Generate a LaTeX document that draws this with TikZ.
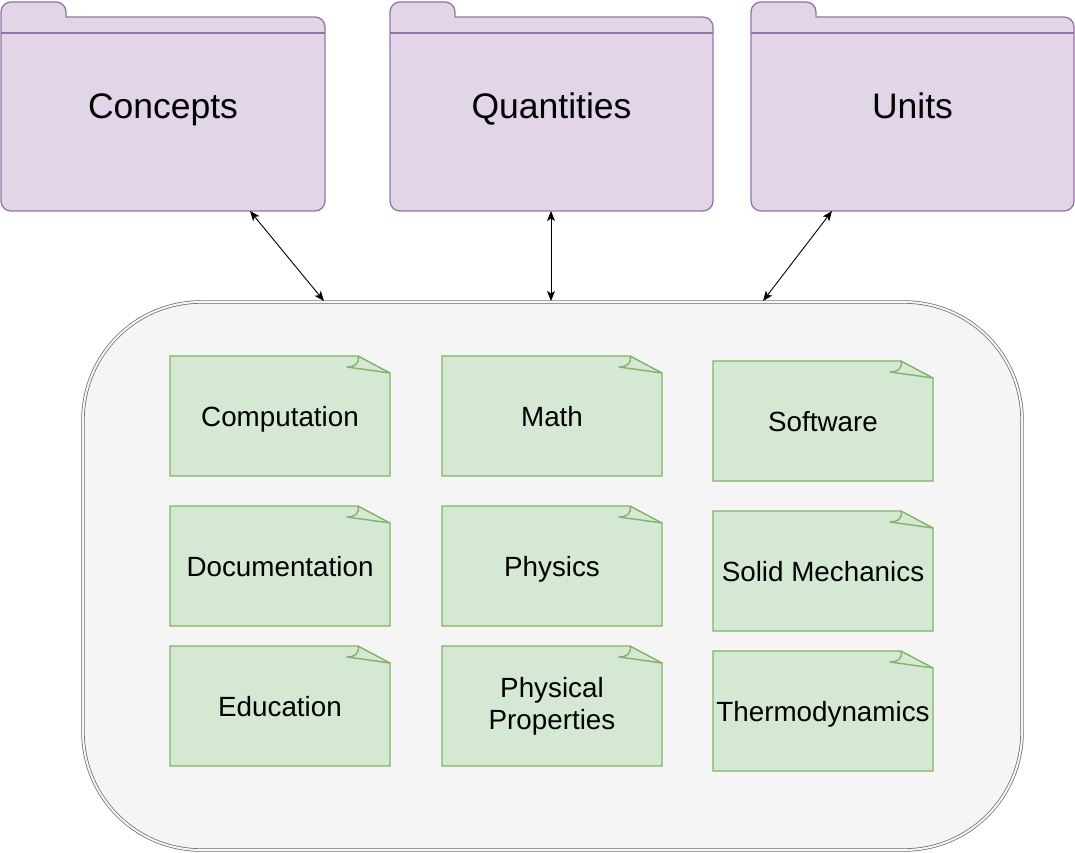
\documentclass[tikz,border=0pt]{standalone}
\usepackage{fontspec}
\setmainfont{Liberation Sans}
\usetikzlibrary{arrows.meta,calc}
\definecolor{folderfill}{HTML}{E1D5E7}
\definecolor{folderdraw}{HTML}{9673A6}
\definecolor{notefill}{HTML}{D5E8D4}
\definecolor{notedraw}{HTML}{82B366}
\definecolor{boxfill}{HTML}{F5F5F5}
\definecolor{boxdraw}{HTML}{666666}
\tikzset{
  folder/.style={fill=folderfill,draw=folderdraw,line width=1.3pt,line join=round},
  foldertext/.style={inner sep=0pt,text height=25.4pt,text depth=0pt,font=\fontsize{35.5}{40}\selectfont},
  noteshape/.style={fill=notefill,draw=notedraw,line width=1.4pt,line join=miter},
  notetext/.style={inner sep=0pt,align=center,font=\fontsize{27.8}{32}\selectfont},
  oneline/.style={text height=19.9pt,text depth=0pt},
  container/.style={fill=boxfill,draw=boxdraw,double=boxfill,double distance=2pt,line width=0.7pt,rounded corners=118pt},
  link/.style={draw=black,line width=0.9pt,{Stealth[length=10pt,width=8pt,inset=2.5pt]}-{Stealth[length=10pt,width=8pt,inset=2.5pt]}}
}
\begin{document}
\begin{tikzpicture}[x=1pt,y=1pt]
\useasboundingbox (0,0) rectangle (1075,852);
% folders
\foreach \a/\b/\nm/\txt in {1/325/concepts/Concepts,390/713/quantities/Quantities,751/1074/units/Units}{
  \path[folder] (\a,651) -- (\a,840) arc[start angle=180,end angle=90,radius=10]
     -- ({\a+55},850) arc[start angle=90,end angle=0,radius=10]
     -- ({\a+65},835) -- ({\b-10},835) arc[start angle=90,end angle=0,radius=10]
     -- (\b,651) arc[start angle=0,end angle=-90,radius=10]
     -- ({\a+10},641) arc[start angle=270,end angle=180,radius=10] -- cycle;
  \draw[folderdraw,line width=1.3pt] (\a,819) -- (\b,819);
  \node[foldertext] (\nm) at ({(\a+\b)/2},746) {\txt};
}
% container
\node[inner sep=0pt,minimum width=939pt,minimum height=548pt] (domain) at (552.5,276) {};
\path[container] (83,2) rectangle (1022,550);
% notes
\foreach \x/\yt/\nm/\txt/\st in {
  170/496/computation/Computation/oneline,
  170/346/documentation/Documentation/oneline,
  170/206/education/Education/oneline,
  442/496/math/Math/oneline,
  442/346/physics/Physics/oneline,
  442/206/physprop/{Physical\\Properties}/{},
  713/491/software/Software/oneline,
  713/341/solidmech/Solid Mechanics/oneline,
  713/201/thermo/Thermodynamics/oneline}{
  \path[noteshape] (\x,\yt) -- ({\x+188},\yt) -- ({\x+220},{\yt-17}) -- ({\x+220},{\yt-120}) -- (\x,{\yt-120}) -- cycle;
  \draw[notedraw,line width=1.4pt,line join=round] ({\x+188},\yt) .. controls ({\x+190},{\yt-8}) and ({\x+184},{\yt-11}) .. ({\x+177},{\yt-11}) -- ({\x+220},{\yt-17});
  \node[notetext,\st] (\nm) at ({\x+110},{\yt-60.5}) {\txt};
}
% connectors
\coordinate (ca) at (250,641);
\coordinate (cb) at (324,551);
\coordinate (qa) at (551,641);
\coordinate (qb) at (551,551);
\coordinate (ua) at (832,641);
\coordinate (ub) at (763,551);
\draw[link] (ca) -- (cb);
\draw[link] (qa) -- (qb);
\draw[link] (ua) -- (ub);
\end{tikzpicture}
\end{document}
